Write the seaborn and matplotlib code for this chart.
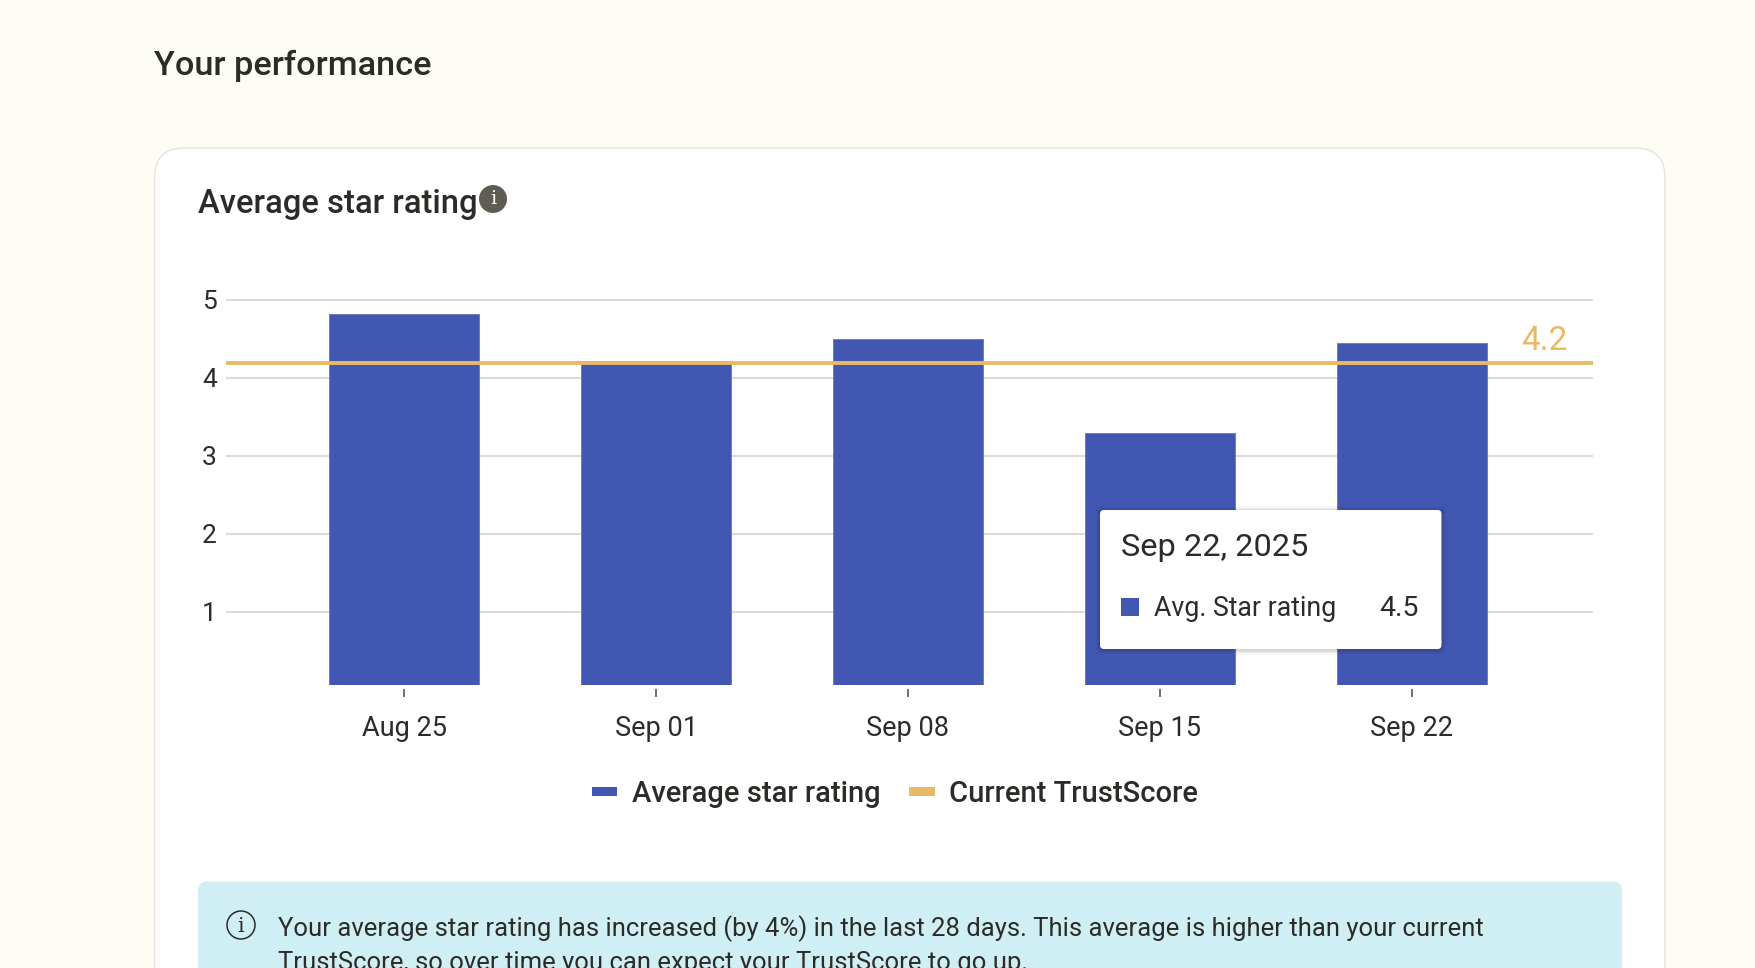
import pandas as pd
import seaborn as sns
import matplotlib
matplotlib.use("Agg")
import matplotlib.pyplot as plt
from matplotlib.patches import FancyBboxPatch, Circle, Rectangle, Patch

weeks = ["Aug 25", "Sep 01", "Sep 08", "Sep 15", "Sep 22"]
avg_rating = [4.81, 4.21, 4.49, 3.29, 4.44]
trust_score = 4.18
trust_label = "4.2"
y_ticks = [1, 2, 3, 4, 5]
series_names = ["Average star rating", "Current TrustScore"]

BLUE = "#4257B2"
GOLD = "#E8B966"
INK = "#2B2B28"
W, H = 1756, 968


def rounded(ax, x0, y0, x1, y1, r, **kw):
    ax.add_patch(FancyBboxPatch((x0, y0), x1 - x0, y1 - y0,
                                boxstyle=f"round,pad=0,rounding_size={r}", **kw))


sns.set_theme(style="white")
plt.rcParams["font.family"] = ["Roboto", "DejaVu Sans"]

fig = plt.figure(figsize=(W / 100, H / 100), dpi=100, facecolor="#FDFCF5")

# page furniture sits behind the chart
bg = fig.add_axes([0, 0, 1, 1], zorder=0)
bg.set_xlim(0, W)
bg.set_ylim(H, 0)
bg.axis("off")
rounded(bg, 154.5, 148, 1665, 1100, 30, fc="white", ec="#E8E2DC", lw=1.0)
rounded(bg, 198, 881.5, 1622, 1100, 9, fc="#D0EFF4", ec="none")

# chart, 78 px per star with zero at y=690
ax = fig.add_axes([226 / W, 1 - 685.4 / H, (1592.5 - 226) / W, (685.4 - 291.7) / H],
                  zorder=1, facecolor="none")
df = pd.DataFrame({"week": weeks, "rating": avg_rating})
sns.barplot(data=df, x="week", y="rating", color=BLUE, saturation=1, width=0.595,
            edgecolor="#6C7DC8", linewidth=0.7, ax=ax, zorder=2)
ax.axhline(trust_score, color=GOLD, lw=2.8, zorder=3)
ax.set_xlim(-0.707, 4.717)
ax.set_ylim(0.055, 5.1)
ax.set_yticks(y_ticks)
ax.set_xlabel("")
ax.set_ylabel("")
ax.yaxis.grid(True, color="#DEDAD5", lw=1.5)
ax.set_axisbelow(True)
sns.despine(ax=ax, left=True, top=True, right=True, bottom=True)
ax.spines["bottom"].set_position(("outward", 2.6))
ax.tick_params(axis="y", length=0, pad=6.5, labelsize=19, labelcolor=INK)
ax.tick_params(axis="x", length=6, width=1.1, color="#4A4A46", pad=12.4, labelsize=19.5,
               labelcolor=INK, bottom=True)

ax.legend(handles=[Patch(fc=BLUE, ec="none"), Patch(fc=GOLD, ec="none")],
          labels=series_names, loc="center", ncols=2, frameon=False,
          bbox_to_anchor=(895 / W, 1 - 794 / H), bbox_transform=fig.transFigure,
          prop={"size": 21, "weight": "medium"}, labelcolor=INK, handlelength=0.87,
          handleheight=0.12, handletextpad=0.5, columnspacing=1.0)

# titles, tooltip, callout drawn on top
top = fig.add_axes([0, 0, 1, 1], zorder=2, facecolor="none")
top.set_xlim(0, W)
top.set_ylim(H, 0)
top.axis("off")

top.text(154.5, 66, "Your performance", fontsize=24.7, fontweight="medium", color=INK, va="center")
top.text(198, 204.5, "Average star rating", fontsize=23.6, fontweight="medium", color=INK, va="center")
top.add_patch(Circle((493, 199), 14, fc="#5F5C53", ec="none"))
top.text(493, 199.5, "i", fontsize=14, family="DejaVu Serif", color="white",
         ha="center", va="center")

top.text(1521, 341, trust_label, fontsize=24, color=GOLD, va="center")

# tooltip with a soft shadow
for grow, alpha in [(5, 0.03), (3, 0.05), (1.5, 0.08)]:
    rounded(top, 1100 - grow, 511 - grow, 1441.5 + grow, 650 + grow, 5,
            fc="black", ec="none", alpha=alpha)
rounded(top, 1100, 510, 1441.5, 649, 4, fc="white", ec="none")
top.text(1121.5, 547, "Sep 22, 2025", fontsize=23.4, color=INK, va="center")
top.add_patch(Rectangle((1121, 598), 18, 18, fc=BLUE, ec="none"))
top.text(1154, 608.5, "Avg. Star rating", fontsize=19.3, color=INK, va="center")
top.text(1419, 608.5, "4.5", fontsize=20.5, color=INK, va="center", ha="right")

# info callout, second line runs off the bottom of the screenshot
top.add_patch(Circle((241, 925), 14, fc="none", ec=INK, lw=1.1))
top.text(241, 926, "i", fontsize=15, family="DejaVu Serif", color=INK, ha="center", va="center")
top.text(278, 929, "Your average star rating has increased (by 4%) in the last 28 days. "
         "This average is higher than your current", fontsize=18.45, color=INK, va="center")
top.text(278, 963, "TrustScore, so over time you can expect your TrustScore to go up.",
         fontsize=18.45, color=INK, va="center", clip_on=True)

fig.savefig("out.png", dpi=100, facecolor=fig.get_facecolor())
